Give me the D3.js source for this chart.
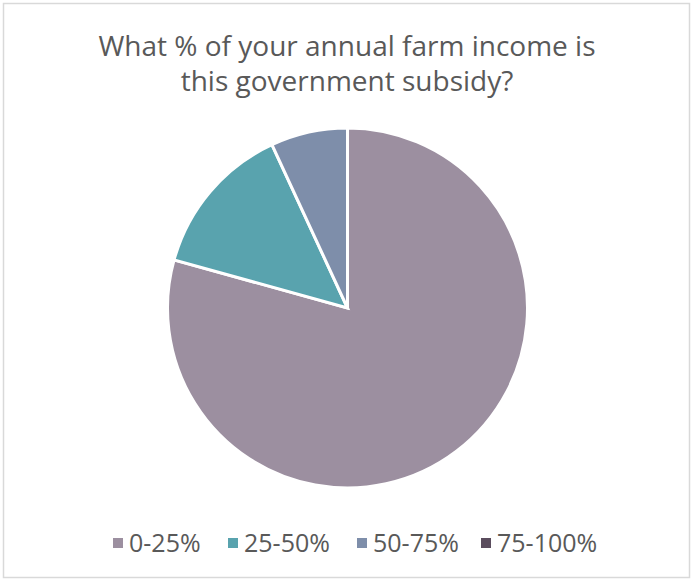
<!DOCTYPE html>
<html>
<head>
<meta charset="utf-8">
<script src="https://cdn.jsdelivr.net/npm/d3@7"></script>
<style>
  html, body { margin: 0; padding: 0; background: #fff; }
  svg { display: block; }
</style>
</head>
<body>
<svg id="chart" width="692" height="580"></svg>
<script>
// Survey answers: share of annual farm income coming from the subsidy
const categories = ["0-25%", "25-50%", "50-75%", "75-100%"];
const counts = [23, 4, 2, 0];
const colors = ["#9c8fa0", "#59a3ae", "#7e8eaa", "#5b4d5e"];
const titleLines = ["What % of your annual farm income is", "this government subsidy?"];

const W = 692, H = 580;
const svg = d3.select("#chart");
const font = "'Open Sans', 'DejaVu Sans', sans-serif";

// chart frame
svg.append("rect")
  .attr("x", 3.5).attr("y", 3.5)
  .attr("width", 686).attr("height", 574)
  .attr("fill", "#fff")
  .attr("stroke", "#d9d9d9")
  .attr("stroke-width", 1.5);

// title
svg.append("g").selectAll("text")
  .data(titleLines)
  .join("text")
  .attr("x", 347)
  .attr("y", (d, i) => 56 + i * 35)
  .attr("text-anchor", "middle")
  .attr("font-family", font)
  .attr("font-size", 28)
  .attr("fill", "#595959")
  .text(d => d);

// pie
const color = d3.scaleOrdinal().domain(categories).range(colors);
const pie = d3.pie().sort(null).value(d => d.value);
const arc = d3.arc().innerRadius(0).outerRadius(180);
const data = categories.map((c, i) => ({ cat: c, value: counts[i] }));

svg.append("g")
  .attr("transform", "translate(347.5,308)")
  .selectAll("path")
  .data(pie(data).filter(d => d.data.value > 0))
  .join("path")
  .attr("d", arc)
  .attr("fill", d => color(d.data.cat))
  .attr("stroke", "#fff")
  .attr("stroke-width", 3)
  .attr("stroke-linejoin", "miter");

// legend
const legendX = [113, 228, 357, 481];
const legend = svg.append("g").selectAll("g")
  .data(categories)
  .join("g")
  .attr("transform", (d, i) => `translate(${legendX[i]},543)`);
legend.append("rect")
  .attr("x", 0).attr("y", -5)
  .attr("width", 10).attr("height", 10)
  .attr("fill", d => color(d));
legend.append("text")
  .attr("x", 16).attr("y", 0)
  .attr("dy", "0.35em")
  .attr("font-family", font)
  .attr("font-size", 25)
  .attr("fill", "#595959")
  .text(d => d);
</script>
</body>
</html>
